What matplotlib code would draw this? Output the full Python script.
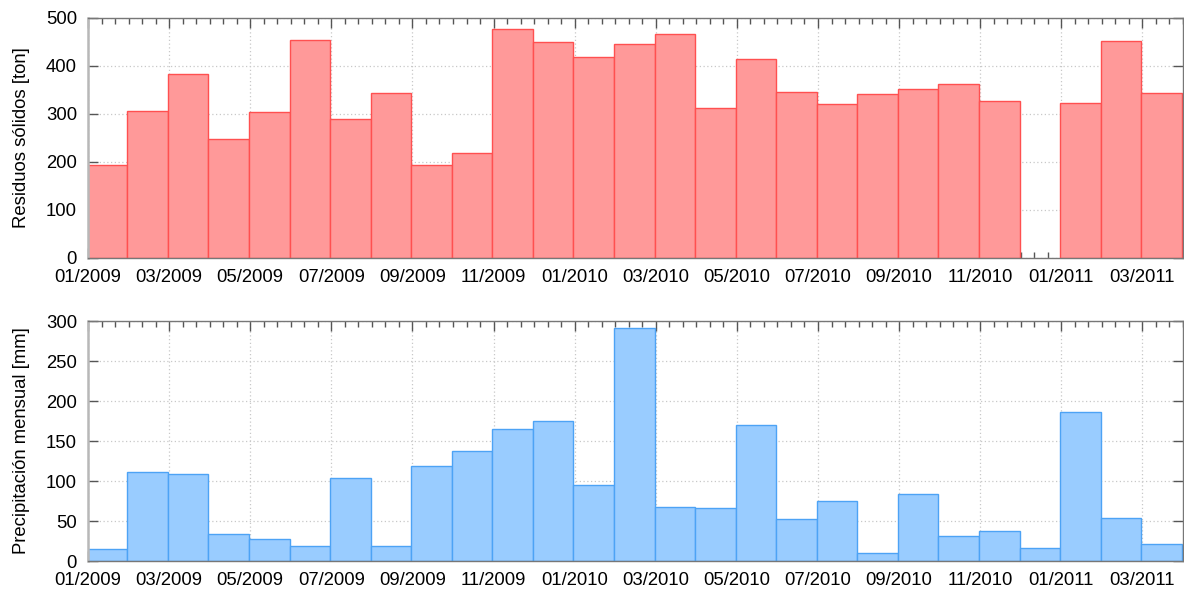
import numpy as np
import matplotlib
matplotlib.use("Agg")
import matplotlib.pyplot as plt
from matplotlib.ticker import MultipleLocator, FixedLocator

plt.rcParams['font.family'] = ['Liberation Sans', 'DejaVu Sans']

# Monthly series, 01/2009 .. 03/2011
months = ["01/2009", "02/2009", "03/2009", "04/2009", "05/2009", "06/2009",
          "07/2009", "08/2009", "09/2009", "10/2009", "11/2009", "12/2009",
          "01/2010", "02/2010", "03/2010", "04/2010", "05/2010", "06/2010",
          "07/2010", "08/2010", "09/2010", "10/2010", "11/2010", "12/2010",
          "01/2011", "02/2011", "03/2011"]

residuos = [194, 307, 384, 248, 304, 455, 290, 343, 194, 218, 477, 451,
            419, 445, 466, 313, 415, 346, 321, 341, 352, 363, 327, np.nan,
            322, 453, 343]

precipitacion = [15, 111, 109, 34, 27, 19, 104, 19, 119, 138, 165, 175,
                 95, 291, 67, 66, 170, 53, 75, 10, 84, 31, 38, 16,
                 186, 54, 21]

tick_labels = months[::2]

FS = 13.3

fig = plt.figure(figsize=(11.84, 5.95), dpi=100)
ax1 = fig.add_axes([88 / 1184, 1 - 258 / 595, 1095 / 1184, 240 / 595])
ax2 = fig.add_axes([88 / 1184, 1 - 561 / 595, 1095 / 1184, 240 / 595])

x = np.arange(len(months))


def style(ax, ymax, ystep, ylabel):
    ax.set_xlim(0, len(months))
    ax.set_ylim(0, ymax)
    ax.xaxis.set_major_locator(FixedLocator(x[::2]))
    ax.set_xticklabels(tick_labels)
    ax.xaxis.set_minor_locator(MultipleLocator(1 / 3))
    ax.yaxis.set_major_locator(MultipleLocator(ystep))
    ax.tick_params(axis='both', which='major', direction='in', length=7,
                   width=1, color='#555555', labelsize=FS,
                   top=True, right=True)
    ax.tick_params(axis='x', which='minor', direction='in', length=4,
                   width=1, color='#555555', top=True, bottom=True)
    ax.tick_params(axis='x', which='major', pad=8)
    ax.tick_params(axis='y', which='major', pad=8)
    ax.grid(True, which='major', color='#c8c8c8', linestyle=(0, (1, 2)),
            linewidth=0.9)
    ax.set_axisbelow(True)
    for side in ('top', 'right', 'bottom'):
        ax.spines[side].set_color('#777777')
        ax.spines[side].set_linewidth(1.0)
    ax.spines['left'].set_color('#b8b8b8')
    ax.spines['left'].set_linewidth(1.8)
    ax.set_ylabel(ylabel, fontsize=FS)
    ax.yaxis.set_label_coords(-0.053, 0.5)


ax1.bar(x - 0.03, residuos, width=1.0, align='edge', color='#ff9999',
        edgecolor='#ff5050', linewidth=1.0, zorder=2)
style(ax1, 500, 100, "Residuos sólidos [ton]")

ax2.bar(x - 0.03, precipitacion, width=1.0, align='edge', color='#99ccff',
        edgecolor='#4da3f5', linewidth=1.0, zorder=2)
style(ax2, 300, 50, "Precipitación mensual [mm]")

fig.savefig("out.png", dpi=100)
